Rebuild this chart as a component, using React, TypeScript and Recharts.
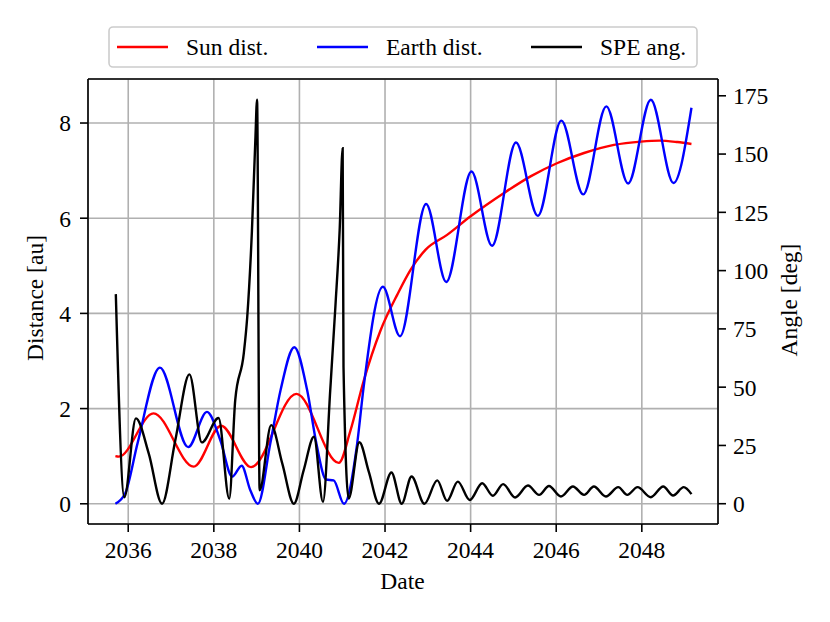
import React from "react";
import { LineChart, Line, XAxis, YAxis, CartesianGrid, ReferenceLine } from "recharts";

const sunYears = [2035.70, 2035.78, 2036.59, 2037.53, 2038.17, 2038.87, 2039.93, 2040.92, 2041.19, 2041.50, 2041.89, 2042.29, 2042.60, 2042.95, 2043.45, 2044.00, 2044.78, 2045.40, 2046.03, 2046.65, 2047.35, 2047.98, 2048.41, 2048.83, 2049.16];
const sunDist = [1.00, 0.99, 1.90, 0.78, 1.64, 0.77, 2.31, 0.86, 1.53, 2.58, 3.63, 4.40, 4.92, 5.34, 5.65, 6.04, 6.53, 6.88, 7.16, 7.37, 7.54, 7.61, 7.63, 7.60, 7.56];

const earthYears = [2035.70, 2035.93, 2036.22, 2036.74, 2037.40, 2037.84, 2038.15, 2038.43, 2038.65, 2038.85, 2039.03, 2039.32, 2039.56, 2039.88, 2040.18, 2040.40, 2040.62, 2040.80, 2041.04, 2041.35, 2041.50, 2041.95, 2042.35, 2042.96, 2043.43, 2044.02, 2044.50, 2045.06, 2045.57, 2046.12, 2046.63, 2047.17, 2047.68, 2048.21, 2048.74, 2049.16];
const earthDist = [0.00, 0.22, 1.28, 2.86, 1.19, 1.93, 1.34, 0.57, 0.80, 0.29, 0.00, 1.27, 2.39, 3.29, 2.39, 1.25, 0.51, 0.49, 0.00, 1.27, 2.45, 4.56, 3.52, 6.30, 4.66, 6.98, 5.42, 7.59, 6.05, 8.05, 6.50, 8.35, 6.73, 8.49, 6.74, 8.32];

const speYears = [2035.71, 2035.91, 2036.18, 2036.48, 2036.79, 2037.10, 2037.43, 2037.72, 2038.11, 2038.36, 2038.50, 2038.70, 2038.78, 2038.89, 2038.97, 2039.01, 2039.07, 2039.34, 2039.60, 2039.87, 2040.10, 2040.34, 2040.55, 2040.72, 2040.84, 2040.94, 2041.01, 2041.03, 2041.15, 2041.40, 2041.62, 2041.86, 2042.15, 2042.39, 2042.62, 2042.92, 2043.22, 2043.45, 2043.70, 2043.98, 2044.27, 2044.52, 2044.76, 2045.04, 2045.34, 2045.60, 2045.83, 2046.11, 2046.39, 2046.65, 2046.88, 2047.16, 2047.45, 2047.66, 2047.90, 2048.21, 2048.50, 2048.73, 2048.98, 2049.16];
const speAngle = [89.9, 2.8, 36.6, 21.5, 0.0, 27.2, 55.5, 26.3, 36.8, 2.2, 44.4, 64.5, 80.0, 117.0, 156.0, 173.3, 5.8, 33.7, 17.2, 0.0, 14.4, 28.7, 0.8, 48.7, 84.5, 117.4, 152.5, 58.7, 2.2, 26.4, 13.8, 0.0, 13.4, 0.0, 11.7, 0.0, 10.0, 1.2, 9.5, 1.6, 8.8, 3.4, 8.4, 2.7, 7.8, 3.8, 7.6, 3.1, 7.4, 3.8, 7.4, 3.1, 7.1, 3.8, 7.1, 2.8, 7.4, 3.5, 7.1, 4.1];

const yearTicks = [2036, 2038, 2040, 2042, 2044, 2046, 2048];
const distTicks = [0, 2, 4, 6, 8];
const angleTicks = [0, 25, 50, 75, 100, 125, 150, 175];

const legendItems = [
  { label: "Sun dist.", color: "#ff0000" },
  { label: "Earth dist.", color: "#0000ff" },
  { label: "SPE ang.", color: "#000000" },
];

const X_DOMAIN: [number, number] = [2035.06, 2049.78];
const DIST_DOMAIN: [number, number] = [-0.425, 8.925];
const ANGLE_DOMAIN: [number, number] = [-8.7, 182.2];

const toData = (xs: number[], ys: number[]) => xs.map((t, i) => ({ t, v: ys[i] }));

const FONT = "'Liberation Serif', 'Times New Roman', serif";
const FS = 23.5;
const textStyle: React.CSSProperties = { fontFamily: FONT, fontSize: FS, fill: "#000" };

const XTick = (props: any) => {
  const { x, y, payload } = props;
  return (
    <text x={x} y={y} dy="0.71em" textAnchor="middle" style={textStyle}>
      {payload.value}
    </text>
  );
};
const LeftTick = (props: any) => {
  const { x, y, payload } = props;
  return (
    <text x={x} y={y} dy="0.355em" textAnchor="end" style={textStyle}>
      {payload.value}
    </text>
  );
};
const RightTick = (props: any) => {
  const { x, y, payload } = props;
  return (
    <text x={x} y={y} dy="0.355em" textAnchor="start" style={textStyle}>
      {payload.value}
    </text>
  );
};

const axisLine = { stroke: "#000", strokeWidth: 1.6 };

export default function App() {
  const sunData = toData(sunYears, sunDist);
  const earthData = toData(earthYears, earthDist);
  const speData = toData(speYears, speAngle);
  const legendX = [117, 317, 531];
  return (
    <div style={{ position: "absolute", left: 0, top: 0, width: 830, height: 622, background: "#fff", fontFamily: FONT }}>
      <LineChart width={830} height={622} margin={{ top: 79, right: 52, bottom: 48, left: 28 }}>
        <CartesianGrid xAxisId="main" yAxisId="left" stroke="#b0b0b0" strokeWidth={1.6} />
        <XAxis
          xAxisId="main"
          dataKey="t"
          type="number"
          domain={X_DOMAIN}
          allowDataOverflow
          ticks={yearTicks}
          tickSize={8}
          tickMargin={9.5}
          height={50}
          tick={<XTick />}
          axisLine={axisLine}
          tickLine={axisLine}
          interval={0}
        />
        <YAxis
          yAxisId="left"
          type="number"
          domain={DIST_DOMAIN}
          allowDataOverflow
          ticks={distTicks}
          width={60}
          tickSize={8}
          tickMargin={9}
          tick={<LeftTick />}
          axisLine={axisLine}
          tickLine={axisLine}
          interval={0}
        />
        <YAxis
          yAxisId="right"
          orientation="right"
          type="number"
          domain={ANGLE_DOMAIN}
          allowDataOverflow
          ticks={angleTicks}
          width={60}
          tickSize={8}
          tickMargin={7}
          tick={<RightTick />}
          axisLine={axisLine}
          tickLine={axisLine}
          interval={0}
        />
        <ReferenceLine xAxisId="main" yAxisId="left" y={DIST_DOMAIN[1]} stroke="#000" strokeWidth={1.6} ifOverflow="visible" />
        <Line xAxisId="main" yAxisId="left" data={sunData} dataKey="v" type="monotone" stroke="#ff0000" strokeWidth={2.4} dot={false} isAnimationActive={false} name="Sun dist." />
        <Line xAxisId="main" yAxisId="left" data={earthData} dataKey="v" type="monotone" stroke="#0000ff" strokeWidth={2.4} dot={false} isAnimationActive={false} name="Earth dist." />
        <Line xAxisId="main" yAxisId="right" data={speData} dataKey="v" type="monotone" stroke="#000000" strokeWidth={2.4} dot={false} isAnimationActive={false} name="SPE ang." />
      </LineChart>
      <svg width={830} height={622} style={{ position: "absolute", left: 0, top: 0, pointerEvents: "none" }}>
        <rect x={109} y={27} width={588} height={40} rx={4} ry={4} fill="#ffffff" fillOpacity={0.8} stroke="#cccccc" strokeWidth={1.6} />
        {legendItems.map((it, i) => (
          <g key={it.label}>
            <line x1={legendX[i]} x2={legendX[i] + 51} y1={47} y2={47} stroke={it.color} strokeWidth={2.4} />
            <text x={legendX[i] + 69} y={55} style={textStyle}>{it.label}</text>
          </g>
        ))}
        <text x={402.5} y={589} textAnchor="middle" style={textStyle}>Date</text>
        <text x={0} y={0} transform="translate(43,298) rotate(-90)" textAnchor="middle" style={textStyle}>Distance [au]</text>
        <text x={0} y={0} transform="translate(797,300) rotate(-90)" textAnchor="middle" style={textStyle}>Angle [deg]</text>
      </svg>
    </div>
  );
}
